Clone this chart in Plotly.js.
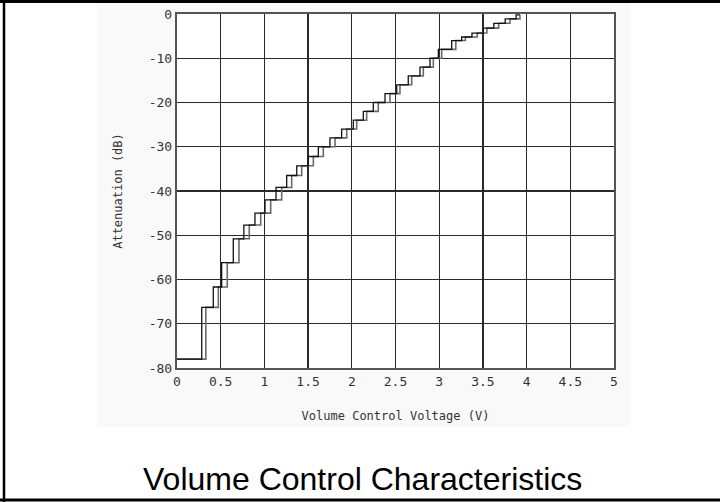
<!DOCTYPE html>
<html>
<head>
<meta charset="utf-8">
<script src="https://cdn.plot.ly/plotly-3.0.1.min.js"></script>
<style>
  html, body { margin: 0; padding: 0; background: #fff; }
  #chart { width: 720px; height: 502px; }
</style>
</head>
<body>
<div id="chart"></div>
<script>
// Attenuation step levels (dB), shared by both sweep directions
const stepLevels = [-78.0, -66.3, -61.7, -56.2, -50.8, -47.7, -45.0, -42.0, -39.2, -36.5,
  -34.3, -32.2, -30.0, -28.0, -26.0, -24.0, -22.0, -20.0, -18.0, -16.0,
  -14.0, -12.0, -10.0, -8.0, -6.0, -5.2, -4.3, -3.2, -2.1, -1.1, -0.2];

// Control voltage (V) at which each step is reached, rising sweep
const risingVolts = [0, 0.283, 0.415, 0.511, 0.644, 0.765, 0.892, 1.007, 1.133, 1.255,
  1.370, 1.502, 1.617, 1.750, 1.884, 2.017, 2.132, 2.246, 2.380, 2.514,
  2.646, 2.780, 2.895, 2.990, 3.143, 3.257, 3.375, 3.505, 3.625, 3.755, 3.880];

// Control voltage (V) at which each step is reached, falling sweep
const fallingVolts = [0, 0.330, 0.473, 0.575, 0.709, 0.827, 0.958, 1.072, 1.198, 1.312,
  1.427, 1.560, 1.674, 1.808, 1.942, 2.056, 2.170, 2.303, 2.437, 2.551,
  2.685, 2.818, 2.933, 3.028, 3.190, 3.300, 3.435, 3.545, 3.680, 3.810, 3.924];

const endVolt = 3.924;

const xTicks = [0, 0.5, 1, 1.5, 2, 2.5, 3, 3.5, 4, 4.5, 5];
const xTickText = ['0', '0.5', '1', '1.5', '2', '2.5', '3', '3.5', '4', '4.5', '5'];
const yTicks = [0, -10, -20, -30, -40, -50, -60, -70, -80];
const yTickText = ['0', '-10', '-20', '-30', '-40', '-50', '-60', '-70', '-80'];

function staircase(volts, color, width) {
  return {
    type: 'scatter',
    mode: 'lines',
    x: volts.concat([endVolt]),
    y: stepLevels.concat([stepLevels[stepLevels.length - 1]]),
    line: { shape: 'hv', color: color, width: width },
    hoverinfo: 'skip',
    showlegend: false
  };
}

const traces = [
  staircase(fallingVolts, '#6a6a6a', 1.6),
  staircase(risingVolts, '#111111', 1.3)
];

// plot area in pixels: x 177..614, y 14..368
const L = 177, R = 614, T = 14, B = 368;
const px = v => (v - L) / (R - L);
const py = v => (B - v) / (B - T);

const monoFont = 'DejaVu Sans Mono, monospace';
const backdrop = '#f9f9f9';

// faint backdrop around the graph, leaving the plot area white
function band(x0, x1, y0, y1) {
  return { type: 'rect', xref: 'paper', yref: 'paper', layer: 'below',
    x0: px(x0), x1: px(x1), y0: py(y1), y1: py(y0),
    fillcolor: backdrop, line: { width: 0 } };
}

const layout = {
  width: 720,
  height: 502,
  margin: { l: L, r: 720 - R, t: T, b: 502 - B, pad: 0 },
  paper_bgcolor: '#ffffff',
  plot_bgcolor: '#ffffff',
  showlegend: false,
  xaxis: {
    range: [0, 5],
    tickvals: xTicks,
    ticktext: xTickText,
    showgrid: true,
    gridcolor: '#2a2a2a',
    gridwidth: 1.4,
    zeroline: false,
    showline: true,
    mirror: true,
    linecolor: '#555555',
    linewidth: 2.2,
    ticks: '',
    tickfont: { family: monoFont, size: 13, color: '#333333' },
    title: {
      text: 'Volume Control Voltage (V)',
      font: { family: monoFont, size: 12, color: '#333333' },
      standoff: 24
    },
    fixedrange: true
  },
  yaxis: {
    range: [-80, 0],
    tickvals: yTicks,
    ticktext: yTickText,
    showgrid: true,
    gridcolor: '#2a2a2a',
    gridwidth: 1.4,
    zeroline: false,
    showline: true,
    mirror: true,
    linecolor: '#555555',
    linewidth: 2.2,
    ticks: '',
    tickfont: { family: monoFont, size: 13, color: '#333333' },
    title: {
      text: 'Attenuation (dB)',
      font: { family: monoFont, size: 12, color: '#333333' },
      standoff: 24
    },
    fixedrange: true
  },
  shapes: [
    band(97, 630, 3, T - 1),
    band(97, 630, B + 1, 427),
    band(97, L - 1, T - 1, B + 1),
    band(R + 1, 630, T - 1, B + 1),
    // frame around the figure
    { type: 'line', xref: 'paper', yref: 'paper', x0: px(0), x1: px(720), y0: py(1.5), y1: py(1.5),
      line: { color: '#000', width: 3 } },
    { type: 'line', xref: 'paper', yref: 'paper', x0: px(4), x1: px(4), y0: py(0), y1: py(502),
      line: { color: '#000', width: 2.5 } },
    { type: 'line', xref: 'paper', yref: 'paper', x0: px(0), x1: px(720), y0: py(500), y1: py(500),
      line: { color: '#000', width: 3 } }
  ],
  annotations: [
    { text: 'Volume Control Characteristics', xref: 'paper', yref: 'paper',
      x: px(362), y: py(479), xanchor: 'center', yanchor: 'middle', showarrow: false,
      font: { family: 'Liberation Sans, Arial, sans-serif', size: 32, color: '#000' } }
  ]
};

Plotly.newPlot('chart', traces, layout, { staticPlot: true, displayModeBar: false });
</script>
</body>
</html>
